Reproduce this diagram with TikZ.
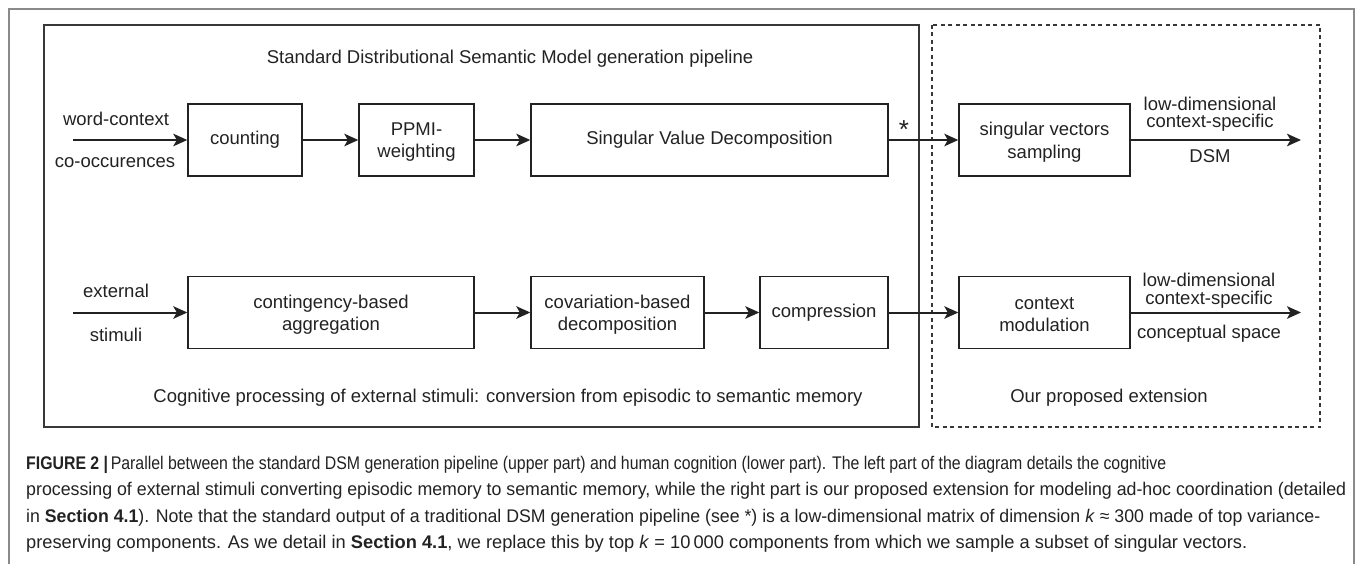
\documentclass[tikz,border=0pt]{standalone}
\usepackage{fontspec}
\usepackage{graphicx}
\setmainfont{Liberation Sans}
\usetikzlibrary{arrows.meta}
\definecolor{ink}{HTML}{222222}
\definecolor{frame}{HTML}{8A8A8A}
% one caption line, squeezed or stretched to a given width
\newcommand{\capline}[2]{\resizebox{#1}{\height}{#2}}
\begin{document}
\begin{tikzpicture}[x=1pt,y=-1pt,
  stagebox/.style={draw=ink, line width=1.4pt, minimum height=72pt, inner sep=0pt,
    align=center, text=ink, font=\fontsize{18.5}{22.5}\selectfont},
  lbl/.style={inner sep=0pt, text=ink, font=\fontsize{18.5}{22}\selectfont},
  % two-line text inside a stage box, set slightly low
  twoline/.style={label={[lbl, align=center, font=\fontsize{18.5}{22.5}\selectfont, yshift=-2pt]center:#1}},
  outlbl/.style={lbl, anchor=base},
  flow/.style={draw=ink, line width=2pt, -{Stealth[length=14pt,width=12.5pt,inset=3.5pt]}},
  capl/.style={anchor=base west, inner sep=0pt, text=ink,
    font=\fontsize{18.3}{22}\selectfont}]
\useasboundingbox (0,0) rectangle (1355,564);

% outer figure frame (open at the bottom)
\draw[frame, line width=1.3pt] (9,570) -- (9,9) -- (1354,9) -- (1354,570);

% solid panel: standard pipeline / cognitive processing
\draw[ink!90, line width=1.6pt] (44,25) rectangle (919,427);
% dashed panel: proposed extension
\draw[ink!90, line width=1.4pt, dash pattern=on 4pt off 3.5pt] (932,25) rectangle (1320,427);

% panel titles
\node[lbl] (toptitle) at (510,59) {Standard Distributional Semantic Model generation pipeline};
\node[lbl] (bottitle) at (508,398) {Cognitive processing of external stimuli: conversion from episodic to semantic memory};
\node[lbl] (exttitle) at (1109,398) {Our proposed extension};

% upper row
\coordinate (inA) at (73,140);
\node[stagebox, minimum width=114pt] (count) at (245,140) {counting};
\node[stagebox, minimum width=115pt, twoline={PPMI-\\weighting}] (ppmi) at (416.5,140) {};
\node[stagebox, minimum width=357pt] (svd) at (709.5,140) {Singular Value Decomposition};
\node[stagebox, minimum width=171pt, twoline={singular vectors\\sampling}] (samp) at (1044.5,140) {};
\coordinate (outA) at (1301,140);

\node[lbl] (wc) at (116,119) {word-context};
\node[lbl] (co) at (115,163) {co-occurences};
\node[inner sep=0pt, anchor=base, text=ink, font=\fontsize{26}{26}\selectfont] (star) at (904,139) {*};
\node[outlbl] (ldA) at (1210,110.5) {low-dimensional};
\node[outlbl] (csA) at (1210,128) {context-specific};
\node[outlbl] (dsm) at (1210,163) {DSM};

\draw[flow] (inA) -- (count);
\draw[flow] (count) -- (ppmi);
\draw[flow] (ppmi) -- (svd);
\draw[flow] (svd) -- (samp);
\draw[flow] (samp) -- (outA);

% lower row
\coordinate (inB) at (73,312.5);
\node[stagebox, minimum width=286pt, twoline={contingency-based\\aggregation}] (cont) at (331,312.5) {};
\node[stagebox, minimum width=173pt, twoline={covariation-based\\decomposition}] (covar) at (617.5,312.5) {};
\node[stagebox, minimum width=128pt] (comp) at (824,312.5) {compression};
\node[stagebox, minimum width=171pt, twoline={context\\modulation}] (cmod) at (1044.5,312.5) {};
\coordinate (outB) at (1301,312.5);

\node[lbl] (ext) at (116,291) {external};
\node[lbl] (stim) at (116,335) {stimuli};
\node[outlbl] (ldB) at (1209,287) {low-dimensional};
\node[outlbl] (csB) at (1209,305) {context-specific};
\node[outlbl] (cs) at (1209,338) {conceptual space};

\draw[flow] (inB) -- (cont);
\draw[flow] (cont) -- (covar);
\draw[flow] (covar) -- (comp);
\draw[flow] (comp) -- (cmod);
\draw[flow] (cmod) -- (outB);

% caption
\node[capl] (cap1) at (26,469) {\capline{1140pt}{{\bfseries FIGURE 2 |}\,Parallel between the standard DSM generation pipeline (upper part) and human cognition (lower part). The left part of the diagram details the cognitive}};
\node[capl] (cap2) at (26,495.5) {\capline{1320pt}{processing of external stimuli converting episodic memory to semantic memory, while the right part is our proposed extension for modeling ad-hoc coordination (detailed}};
\node[capl] (cap3) at (26,522) {\capline{1294pt}{in \textbf{Section 4.1}). Note that the standard output of a traditional DSM generation pipeline (see *) is a low-dimensional matrix of dimension \textit{k} ≈ 300 made of top variance-}};
\node[capl] (cap4) at (26,548.5) {\capline{1221pt}{preserving components. As we detail in \textbf{Section 4.1}, we replace this by top \textit{k} = 10\,000 components from which we sample a subset of singular vectors.}};
\end{tikzpicture}
\end{document}
